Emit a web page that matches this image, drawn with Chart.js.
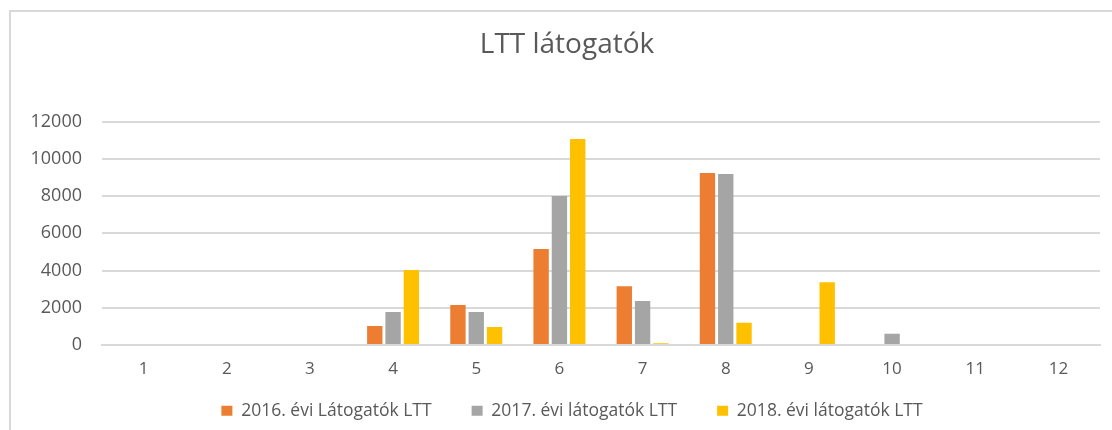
<!DOCTYPE html>
<html>
<head>
<meta charset="utf-8">
<script src="https://cdn.jsdelivr.net/npm/chart.js@4/dist/chart.umd.min.js"></script>
<style>
  html, body { margin: 0; padding: 0; background: #fff; }
  #wrap { position: relative; width: 1112px; height: 430px; }
  #frame { position: absolute; left: 9px; top: 10px; right: -2px; bottom: -2px;
           border-left: 2px solid #d9d9d9; border-top: 2px solid #d9d9d9; }
  canvas { position: absolute; left: 0; top: 0; }
</style>
</head>
<body>
<div id="wrap">
  <div id="frame"></div>
  <canvas id="myChart" width="1112" height="430"></canvas>
</div>
<script>
const months = ["1", "2", "3", "4", "5", "6", "7", "8", "9", "10", "11", "12"];
const visitors2016 = [0, 0, 0, 1020, 2150, 5160, 3150, 9240, 0, 0, 0, 0];
const visitors2017 = [0, 0, 0, 1770, 1770, 8000, 2360, 9180, 0, 610, 0, 0];
const visitors2018 = [0, 0, 0, 4030, 970, 11060, 90, 1200, 3370, 0, 0, 0];
const seriesNames = ["2016. évi Látogatók LTT", "2017. évi látogatók LTT", "2018. évi látogatók LTT"];
const colors = ["#ED7D31", "#A5A5A5", "#FFC000"];

const fontFamily = "'Open Sans', sans-serif";
const textColor = "#595959";

// legend padding is big for the horizontal gaps, so pull the box up a bit;
// also nudge title and legend a little right like in the original
const layoutTweak = {
  id: "layoutTweak",
  afterLayout(chart) {
    const lg = chart.legend;
    lg.top = 362;
    lg.bottom = chart.height;
    lg.height = lg.bottom - lg.top;
    lg.left += 44;
    lg.width = lg.right - lg.left;
    const t = chart.titleBlock;
    t.left += 34;
    t.width = t.right - t.left;
  },
};

let ctx = document.getElementById("myChart").getContext("2d");
const myChart = new Chart(ctx, {
  type: "bar",
  data: {
    labels: months,
    datasets: [visitors2016, visitors2017, visitors2018].map((vals, i) => ({
      label: seriesNames[i],
      data: vals,
      backgroundColor: colors[i],
      borderWidth: 0,
      categoryPercentage: 0.66,
      barPercentage: 0.84,
    })),
  },
  plugins: [layoutTweak],
  options: {
    responsive: false,
    animation: false,
    layout: { padding: { left: 0, right: 12, top: 0, bottom: 0 } },
    plugins: {
      title: {
        display: true,
        text: "LTT látogatók",
        color: textColor,
        font: { family: fontFamily, size: 28, weight: "normal" },
        padding: { top: 28, bottom: 60 },
      },
      legend: {
        position: "bottom",
        maxHeight: 49,
        labels: {
          color: textColor,
          font: { family: fontFamily, size: 17.5 },
          boxWidth: 11,
          boxHeight: 10,
          padding: 40,
        },
      },
      tooltip: { enabled: false },
    },
    scales: {
      x: {
        afterFit: (scale) => { scale.height = 36; },
        grid: { display: false },
        border: { display: true, color: "#d9d9d9", width: 2 },
        ticks: { color: textColor, font: { family: fontFamily, size: 17 }, padding: 6 },
      },
      y: {
        min: 0,
        max: 12000,
        afterFit: (scale) => { scale.width = 102; },
        grid: { color: "#d9d9d9", lineWidth: 2, drawTicks: false },
        border: { display: false },
        ticks: {
          stepSize: 2000,
          color: textColor,
          font: { family: fontFamily, size: 18 },
          padding: 20,
          callback: (v) => String(v),
        },
      },
    },
  },
});
</script>
</body>
</html>
